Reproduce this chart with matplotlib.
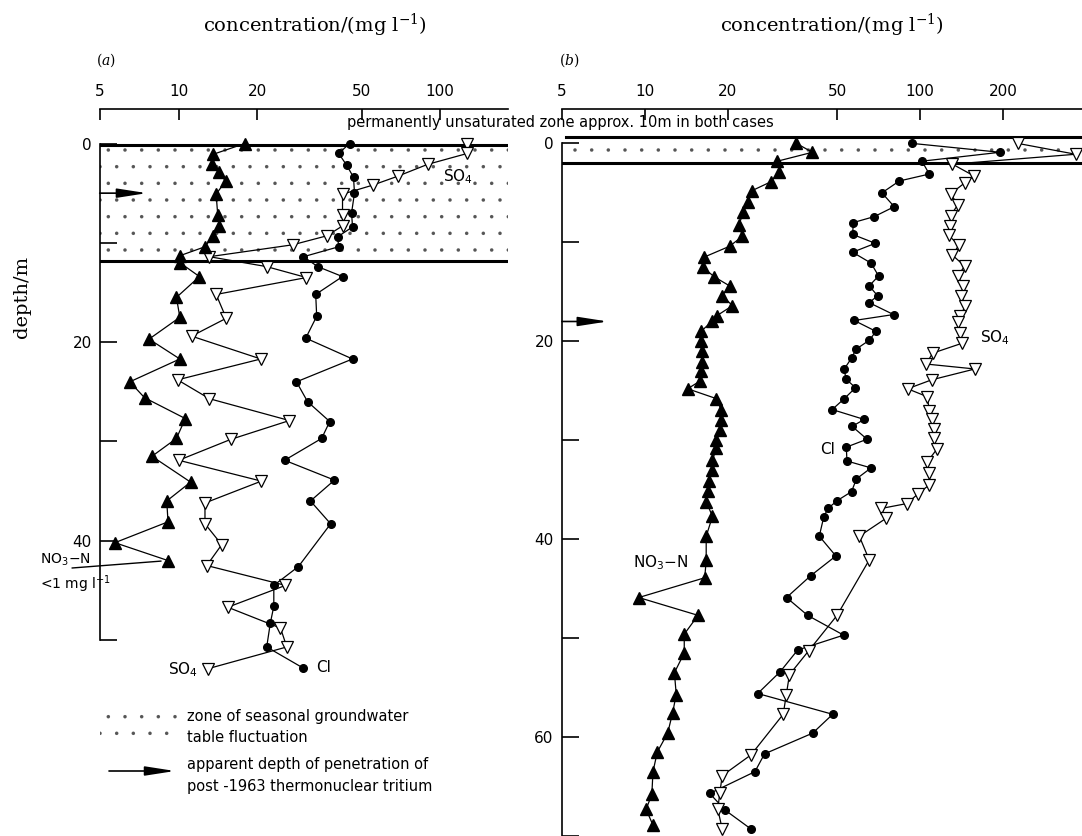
import numpy as np
import matplotlib
matplotlib.use('Agg')
import matplotlib.pyplot as plt
from matplotlib.patches import Rectangle
from matplotlib.ticker import NullLocator

plt.rcParams['font.family'] = ['DejaVu Sans']
plt.rcParams['hatch.linewidth'] = 0.1

# ---- panel (a): depth (m) and concentration (mg/l) ----
a_no3_depth = [0, 1.1, 2.1, 2.9, 3.8, 5.1, 7.2, 8.3, 9.3, 10.4, 11.3, 12.0, 13.4, 15.5,
               17.5, 19.7, 21.7, 24.0, 25.6, 27.7, 29.7, 31.5, 34.1, 36.0, 38.1, 40.2, 42.0]
a_no3 = [17.9, 13.5, 13.4, 14.3, 15.1, 13.9, 14.1, 14.3, 13.5, 12.6, 10.1, 10.1, 12.0, 9.8,
         10.1, 7.7, 10.1, 6.5, 7.4, 10.6, 9.8, 7.9, 11.1, 9.0, 9.1, 5.7, 9.1]

a_cl_depth = [0, 1.0, 2.2, 3.4, 5.0, 7.0, 8.4, 9.4, 10.4, 11.4, 12.4, 13.4, 15.2, 17.4, 19.6,
              21.7, 24.0, 26.0, 28.0, 29.7, 31.9, 33.9, 36.0, 38.3, 42.6, 44.5, 46.6, 48.3,
              50.7, 52.8]
a_cl = [45.0, 40.9, 43.9, 46.6, 47.0, 45.8, 46.2, 40.5, 40.9, 30.0, 34.0, 42.3, 33.4, 33.7,
        30.6, 46.2, 28.2, 31.1, 37.8, 35.2, 25.4, 39.4, 31.9, 38.1, 28.7, 23.1, 23.1, 22.4,
        21.7, 29.8]

a_so4_depth = [0, 1.0, 2.1, 3.3, 4.2, 5.1, 7.2, 8.3, 9.3, 10.2, 11.4, 12.4, 13.5, 15.2, 17.6,
               19.4, 21.7, 23.8, 25.7, 27.9, 29.8, 31.9, 34.0, 36.2, 38.3, 40.4, 42.5, 44.5,
               46.7, 48.8, 50.7, 52.9]
a_so4 = [127, 127, 89.5, 68.7, 55.1, 42.3, 42.3, 42.3, 36.8, 27.3, 13.1, 21.7, 30.8, 13.9,
         15.2, 11.2, 20.6, 9.9, 13.1, 26.5, 15.8, 10.0, 20.7, 12.6, 12.6, 14.6, 12.8, 25.6,
         15.4, 24.5, 25.9, 12.9]

# ---- panel (b) ----
b_no3_depth = [0, 0.9, 1.8, 2.9, 3.9, 4.8, 5.9, 6.9, 8.2, 9.4, 10.4, 11.5, 12.5, 13.5, 14.4,
               15.4, 16.4, 17.4, 18.0, 19.0, 20.0, 21.0, 22.1, 23.0, 24.0, 24.8, 25.8, 26.9,
               28.0, 29.0, 30.0, 30.8, 32.0, 33.0, 34.1, 35.1, 36.2, 37.7, 39.7, 42.1, 43.9,
               45.9, 47.7, 49.6, 51.5, 53.5, 55.7, 57.6, 59.6, 61.5, 63.5, 65.8, 67.3, 68.9]
b_no3 = [35.5, 40.6, 30.3, 30.8, 28.6, 24.4, 23.6, 22.8, 22.0, 22.6, 20.3, 16.4, 16.2, 17.9,
         20.3, 19.1, 20.8, 18.3, 17.5, 16.0, 16.0, 16.1, 16.1, 16.0, 15.9, 14.3, 18.2, 18.9,
         18.9, 18.8, 18.2, 18.2, 17.6, 17.6, 17.1, 17.0, 16.7, 17.6, 16.7, 16.7, 16.5, 9.5,
         15.6, 13.9, 13.9, 12.8, 13.0, 12.6, 12.1, 11.1, 10.7, 10.6, 10.1, 10.7]

b_cl_depth = [0, 0.9, 1.8, 3.1, 3.8, 5.0, 6.4, 7.4, 8.0, 9.2, 10.1, 11.0, 12.1, 13.4, 14.4,
              15.4, 16.1, 17.3, 17.9, 19.0, 19.9, 20.8, 21.7, 22.8, 23.8, 24.7, 25.8, 26.9,
              27.9, 28.6, 29.9, 30.7, 32.1, 32.8, 33.9, 35.2, 36.1, 36.9, 37.8, 39.7, 41.7,
              43.7, 45.9, 47.7, 49.7, 51.2, 53.4, 55.6, 57.7, 59.6, 61.7, 63.5, 65.7, 67.4, 69.3]
b_cl = [93.3, 195, 101.5, 107.9, 84.0, 72.6, 80.5, 68.1, 57.2, 56.8, 68.7, 56.8, 66.3, 70.6,
        65.3, 70.0, 65.3, 80.0, 57.6, 69.1, 65.3, 58.5, 56.3, 53.0, 53.7, 58.2, 53.0, 47.9,
        62.6, 56.6, 64.1, 53.9, 54.2, 66.3, 58.7, 56.3, 50.0, 46.2, 44.6, 43.0, 49.4, 40.0,
        32.7, 39.0, 52.7, 35.9, 31.0, 25.7, 48.1, 40.7, 27.2, 25.1, 17.2, 19.6, 24.3]

b_so4_depth = [0, 1.1, 2.1, 3.3, 4.0, 5.1, 6.2, 7.3, 8.3, 9.3, 10.3, 11.3, 12.4, 13.4, 14.4,
               15.4, 16.4, 17.4, 18.1, 19.2, 20.2, 21.2, 22.3, 22.8, 23.9, 24.8, 25.6, 27.0,
               27.9, 28.9, 29.8, 30.9, 32.2, 33.3, 34.5, 35.4, 36.4, 36.9, 37.9, 39.7, 42.1,
               47.7, 51.3, 53.7, 55.8, 57.7, 61.8, 63.9, 65.7, 67.3, 69.3]
b_so4 = [226, 367, 131, 157, 145, 129, 137, 129, 128, 127, 138, 131, 145, 137, 143, 141, 146,
         140, 137, 139, 142, 111, 105, 158, 110, 90, 106, 108, 110, 112, 112, 115, 106, 108,
         108, 98.4, 89.5, 72.1, 75.1, 60.1, 65.3, 49.9, 39.3, 33.5, 32.6, 31.8, 24.3, 19.1,
         18.7, 18.4, 19.1]

conc_ticks_a = [5, 10, 20, 50, 100]
conc_ticks_b = [5, 10, 20, 50, 100, 200]
fluct_a = (0.15, 11.8)    # zone of seasonal water-table fluctuation
fluct_b = (-0.6, 2.0)
tritium_a = 5.0           # apparent tritium penetration depth
tritium_b = 18.0

W, H = 1082, 836
D0, PXM = 143.5, 9.93     # pixel row of depth 0 and pixels per metre

fig = plt.figure(figsize=(W / 100, H / 100), dpi=100)


def px_axes(left, top, right, bottom):
    return fig.add_axes([left / W, 1 - bottom / H, (right - left) / W, (bottom - top) / H])


def depth_at(ypx):
    return (ypx - D0) / PXM


arrow_kw = dict(arrowstyle='-|>,head_length=1.8,head_width=0.28', mutation_scale=10,
                lw=1.2, color='k', shrinkA=0, shrinkB=0)
stipple = dict(facecolor='white', edgecolor='#555555', hatch='.', lw=0)


def setup(ax, xmax, ticks, ybot, depth_max):
    ax.set_xscale('log')
    ax.set_xlim(5, xmax)
    ax.set_ylim(depth_at(ybot), depth_at(109))
    ax.xaxis.set_ticks_position('top')
    ax.set_xticks(ticks)
    ax.set_xticklabels([str(t) for t in ticks])
    ax.xaxis.set_minor_locator(NullLocator())
    ax.tick_params(axis='x', direction='in', length=8, width=1.2, pad=7, labelsize=11)
    yt = list(range(0, depth_max + 1, 10))
    ax.set_yticks(yt)
    ax.set_yticklabels([str(t) if t % 20 == 0 else '' for t in yt])
    ax.tick_params(axis='y', direction='in', length=12, width=1.2, pad=6, labelsize=11)
    ax.spines['bottom'].set_visible(False)
    ax.spines['right'].set_visible(False)
    ax.spines['left'].set_bounds(0, depth_max)
    for s in ('top', 'left'):
        ax.spines[s].set_linewidth(1.2)
    ax.patch.set_alpha(0)


def profiles(ax, no3, no3_d, cl, cl_d, so4, so4_d):
    ax.plot(cl, cl_d, '-o', color='k', lw=0.9, ms=5.5, clip_on=False, zorder=4)
    ax.plot(so4, so4_d, '-v', color='k', mfc='white', mec='k', mew=0.9, lw=0.9, ms=8,
            clip_on=False, zorder=5)
    ax.plot(no3, no3_d, '-^', color='k', lw=0.9, ms=8, clip_on=False, zorder=6)


# ---------------- panel (a) ----------------
ax_a = px_axes(100, 109, 508, 680)
setup(ax_a, 181.6, conc_ticks_a, 680, 50)
ax_a.axhspan(fluct_a[0], fluct_a[1], zorder=1, **stipple)
ax_a.axhline(fluct_a[0], color='k', lw=2.2, zorder=3)
ax_a.axhline(fluct_a[1], color='k', lw=2.2, zorder=3)
profiles(ax_a, a_no3, a_no3_depth, a_cl, a_cl_depth, a_so4, a_so4_depth)
ax_a.annotate('', xy=(0.115, tritium_a), xycoords=('axes fraction', 'data'),
              xytext=(-34, 0), textcoords='offset points', arrowprops=arrow_kw, zorder=7)

fig.text(443 / W, 1 - 177 / H, 'SO$_4$', fontsize=11, va='center')
fig.text(168 / W, 1 - 670 / H, 'SO$_4$', fontsize=11, va='center')
fig.text(316 / W, 1 - 668 / H, 'Cl', fontsize=11, va='center')
fig.text(40 / W, 1 - 560 / H, 'NO$_3$\u2212N', fontsize=10, va='center')
fig.text(40 / W, 1 - 584 / H, '<1 mg l$^{-1}$', fontsize=10, va='center')
ax_a.annotate('', xy=(a_no3[-1], a_no3_depth[-1]), xycoords='data',
              xytext=(72, H - 568), textcoords='figure pixels',
              arrowprops=dict(arrowstyle='-', lw=1.0, color='k', shrinkA=0, shrinkB=5))

# ---------------- panel (b) ----------------
ax_b = px_axes(562, 109, 1082, 836)
setup(ax_b, 387, conc_ticks_b, 836, 70)
ax_b.axhspan(fluct_b[0], fluct_b[1], xmin=0.008, zorder=1, **stipple)
ax_b.axhline(fluct_b[0], xmin=0.008, color='k', lw=2.2, zorder=3)
ax_b.axhline(fluct_b[1], color='k', lw=2.2, zorder=3)
profiles(ax_b, b_no3, b_no3_depth, b_cl, b_cl_depth, b_so4, b_so4_depth)
ax_b.annotate('', xy=(0.088, tritium_b), xycoords=('axes fraction', 'data'),
              xytext=(-33, 0), textcoords='offset points', arrowprops=arrow_kw, zorder=7)

fig.text(980 / W, 1 - 338 / H, 'SO$_4$', fontsize=11, va='center')
fig.text(820 / W, 1 - 449 / H, 'Cl', fontsize=11, va='center')
fig.text(633 / W, 1 - 563 / H, 'NO$_3$\u2212N', fontsize=11, va='center')

# ---------------- shared texts ----------------
serif = dict(family='DejaVu Serif', math_fontfamily='dejavuserif')
fig.text(315 / W, 1 - 25 / H, 'concentration/(mg l$^{-1}$)', ha='center', va='center',
         fontsize=14, **serif)
fig.text(832 / W, 1 - 25 / H, 'concentration/(mg l$^{-1}$)', ha='center', va='center',
         fontsize=14, **serif)
fig.text(106 / W, 1 - 60 / H, '($\\mathit{a}$)', ha='center', va='center', fontsize=10, **serif)
fig.text(569 / W, 1 - 60 / H, '($\\mathit{b}$)', ha='center', va='center', fontsize=10, **serif)
fig.text(22 / W, 1 - 297 / H, 'depth/m', rotation=90, ha='center', va='center',
         fontsize=14, **serif)
fig.text(560 / W, 1 - 122 / H, 'permanently unsaturated zone approx. 10m in both cases',
         ha='center', va='center', fontsize=10.5)

# ---------------- legend ----------------
fig.add_artist(Rectangle((100 / W, 1 - 747 / H), 79 / W, 35 / H, transform=fig.transFigure,
                         **stipple))
fig.text(187 / W, 1 - 717 / H, 'zone of seasonal groundwater', fontsize=10.5, va='center')
fig.text(187 / W, 1 - 738 / H, 'table fluctuation', fontsize=10.5, va='center')
ax_a.annotate('', xy=(175, H - 771), xycoords='figure pixels',
              xytext=(109, H - 771), textcoords='figure pixels', arrowprops=arrow_kw)
fig.text(187 / W, 1 - 765 / H, 'apparent depth of penetration of', fontsize=10.5, va='center')
fig.text(187 / W, 1 - 786 / H, 'post -1963 thermonuclear tritium', fontsize=10.5, va='center')

fig.savefig('out.png', dpi=100)
